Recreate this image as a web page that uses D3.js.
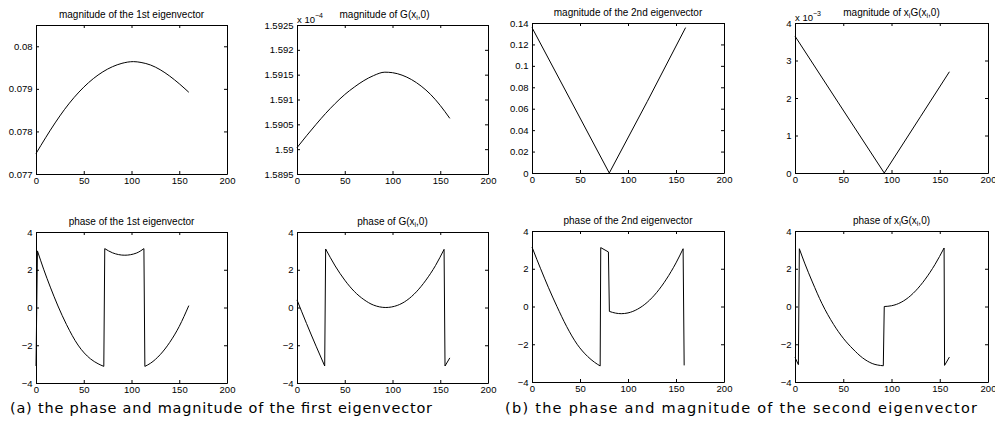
<!DOCTYPE html>
<html>
<head>
<meta charset="utf-8">
<title>eigenvectors</title>
<script src="https://cdn.jsdelivr.net/npm/d3@7"></script>
<style>
  body{ margin:0; background:#fff; }
  svg{ display:block; }
</style>
</head>
<body>
<div id="fig"></div>
<script>
// shared ticks
const xTicks = [0, 50, 100, 150, 200];
const phaseTicks = [-4, -2, 0, 2, 4];
const phaseLabels = ['\u22124', '\u22122', '0', '2', '4'];

// magnitude of the 1st eigenvector
const mag1X = [0, 10, 20, 30, 40, 50, 60, 70, 80, 90, 102, 110, 120, 130, 140, 150, 160];
const mag1Y = [0.07748, 0.07785, 0.0782, 0.07852, 0.0788, 0.07904, 0.07924, 0.0794, 0.07952, 0.0796, 0.07964, 0.07962, 0.07956, 0.07945, 0.0793, 0.07912, 0.07892];
const mag1Ticks = [0.077, 0.078, 0.079, 0.08];
const mag1Labels = ['0.077', '0.078', '0.079', '0.08'];

// magnitude of G(x_i,0), in units of 1e-4
const magGX = [0, 10, 20, 30, 40, 50, 60, 70, 80, 92, 100, 110, 120, 130, 140, 150, 160];
const magGY = [1.59003, 1.59027, 1.5905, 1.59072, 1.59092, 1.5911, 1.59125, 1.59138, 1.59148, 1.59155, 1.59154, 1.59149, 1.5914, 1.59127, 1.5911, 1.59088, 1.59062];
const magGTicks = [1.5895, 1.59, 1.5905, 1.591, 1.5915, 1.592, 1.5925];
const magGLabels = ['1.5895', '1.59', '1.5905', '1.591', '1.5915', '1.592', '1.5925'];

// magnitude of the 2nd eigenvector
const mag2X = [0, 40, 80.5, 120, 160];
const mag2Y = [0.1357, 0.0683, 0, 0.0666, 0.1357];
const mag2Ticks = [0, 0.02, 0.04, 0.06, 0.08, 0.1, 0.12, 0.14];
const mag2Labels = ['0', '0.02', '0.04', '0.06', '0.08', '0.1', '0.12', '0.14'];

// magnitude of x_i G(x_i,0), in units of 1e-3
const magXGX = [0, 45, 92.5, 130, 160];
const magXGY = [3.65, 1.87, 0, 1.5, 2.7];
const magXGTicks = [0, 1, 2, 3, 4];
const magXGLabels = ['0', '1', '2', '3', '4'];

// phases
const ph1X = [0, 1.5, 8, 15, 23, 32, 44, 57, 65, 71, 72, 80, 93, 105, 113, 114, 120, 130, 140, 150, 160];
const ph1Y = [-3.1, 3.0, 2.03, 1.08, 0.08, -0.91, -1.99, -2.72, -2.98, -3.12, 3.12, 2.9, 2.77, 2.88, 3.12, -3.12, -2.95, -2.5, -1.85, -1.0, 0.1];

const phGX = [0, 10, 20, 29, 30, 40, 50, 60, 70, 80, 93, 105, 115, 125, 135, 145, 154, 155, 160];
const phGY = [0.4, -0.85, -2.05, -3.1, 3.1, 2.2, 1.45, 0.85, 0.42, 0.13, 0.0, 0.11, 0.38, 0.83, 1.45, 2.22, 3.08, -3.1, -2.67];

const ph2X = [0, 5, 9, 17, 26, 36, 47, 58, 65, 71, 71.6, 79.6, 80.6, 87, 93, 100, 110, 120, 130, 140, 150, 157.4, 158.5];
const ph2Y = [3.15, 2.5, 2.0, 1.02, 0.0, -1.05, -2.0, -2.65, -2.95, -3.15, 3.12, 2.89, -0.26, -0.35, -0.38, -0.34, -0.14, 0.22, 0.75, 1.45, 2.31, 3.06, -3.12];

const phXGX = [0, 3.5, 4.5, 10, 18, 28, 40, 50, 60, 70, 80, 91.5, 92.5, 100, 105, 115, 125, 135, 145, 154.5, 155, 160];
const phXGY = [-2.7, -3.08, 3.06, 2.3, 1.3, 0.15, -0.95, -1.68, -2.25, -2.72, -3.02, -3.14, 0.0, 0.04, 0.11, 0.38, 0.83, 1.45, 2.22, 3.1, -3.12, -2.68];

const titles = [
  'magnitude of the 1st eigenvector', 'magnitude of G(x_i,0)',
  'magnitude of the 2nd eigenvector', 'magnitude of x_iG(x_i,0)',
  'phase of the 1st eigenvector', 'phase of G(x_i,0)',
  'phase of the 2nd eigenvector', 'phase of x_iG(x_i,0)'
];
const captions = ['(a) the phase and magnitude of the first eigenvector',
                  '(b) the phase and magnitude of the second eigenvector'];

const W = 995, H = 439;
const FONT = '"Liberation Sans", Arial, sans-serif';

const panels = [
  {box: [36, 227, 25, 174], xs: mag1X, ys: mag1Y, dom: [0.077, 0.0805], ticks: mag1Ticks, labels: mag1Labels, smooth: true},
  {box: [297, 488, 25, 174], xs: magGX, ys: magGY, dom: [1.5895, 1.5925], ticks: magGTicks, labels: magGLabels, smooth: true, expo: '\u22124', titleShift: -8},
  {box: [532, 724, 23, 173], xs: mag2X, ys: mag2Y, dom: [0, 0.14], ticks: mag2Ticks, labels: mag2Labels, smooth: false},
  {box: [795, 988, 23, 173], xs: magXGX, ys: magXGY, dom: [0, 4], ticks: magXGTicks, labels: magXGLabels, smooth: false, expo: '\u22123'},
  {box: [36, 227, 232, 383], xs: ph1X, ys: ph1Y, dom: [-4, 4], ticks: phaseTicks, labels: phaseLabels, smooth: true},
  {box: [297, 488, 232, 383], xs: phGX, ys: phGY, dom: [-4, 4], ticks: phaseTicks, labels: phaseLabels, smooth: true},
  {box: [532, 724, 231, 382], xs: ph2X, ys: ph2Y, dom: [-4, 4], ticks: phaseTicks, labels: phaseLabels, smooth: true},
  {box: [795, 988, 231, 382], xs: phXGX, ys: phXGY, dom: [-4, 4], ticks: phaseTicks, labels: phaseLabels, smooth: true}
];

const svg = d3.select('#fig').append('svg')
  .attr('width', W)
  .attr('height', H)
  .style('background', '#fff');

// split a series where the phase wraps, so the jump is drawn straight
function segments(xs, ys) {
  const pts = xs.map((v, i) => [v, ys[i]]);
  const segs = [];
  let cur = [pts[0]];
  for (let i = 1; i < pts.length; i++) {
    if (Math.abs(pts[i][1] - pts[i - 1][1]) > 3) {
      segs.push(cur);
      segs.push([pts[i - 1], pts[i]]);
      cur = [pts[i]];
    } else cur.push(pts[i]);
  }
  segs.push(cur);
  return segs.filter(s => s.length > 1);
}

// text with _x subscripts
function richText(sel, str, size) {
  const parts = str.split(/_(\w)/);
  let back = 0;
  parts.forEach((s, i) => {
    if (!s) return;
    if (i % 2 === 1) {
      sel.append('tspan').attr('dy', 2.5).attr('font-size', size * 0.7).text(s);
      back = -2.5;
    } else {
      sel.append('tspan').attr('dy', back).text(s);
      back = 0;
    }
  });
}

panels.forEach((p, idx) => {
  const [l, r, t, b] = p.box;
  const x = d3.scaleLinear().domain([0, 200]).range([l, r]);
  const y = d3.scaleLinear().domain(p.dom).range([b, t]);
  const g = svg.append('g');
  const fnt = s => s.attr('font-size', 9.5).attr('font-family', FONT);

  g.append('g').attr('transform', `translate(0,${b})`)
    .call(d3.axisBottom(x).tickValues(xTicks).tickSize(-3).tickSizeOuter(0).tickPadding(3.5))
    .call(fnt);
  g.append('g').attr('transform', `translate(0,${t})`)
    .call(d3.axisTop(x).tickValues(xTicks).tickSize(-3).tickSizeOuter(0).tickFormat(''));
  g.append('g').attr('transform', `translate(${l},0)`)
    .call(d3.axisLeft(y).tickValues(p.ticks).tickFormat((d, i) => p.labels[i]).tickSize(-3).tickSizeOuter(0).tickPadding(3.5))
    .call(fnt);
  g.append('g').attr('transform', `translate(${r},0)`)
    .call(d3.axisRight(y).tickValues(p.ticks).tickSize(-3).tickSizeOuter(0).tickFormat(''));

  const line = d3.line()
    .x(d => x(d[0]))
    .y(d => y(d[1]))
    .curve(p.smooth ? d3.curveMonotoneX : d3.curveLinear);

  g.append('path')
    .attr('d', segments(p.xs, p.ys).map(s => line(s)).join(''))
    .attr('fill', 'none')
    .attr('stroke', '#000')
    .attr('stroke-width', 1);

  const title = g.append('text')
    .attr('x', (l + r) / 2 + (p.titleShift || 0))
    .attr('y', t - 7.5)
    .attr('text-anchor', 'middle')
    .attr('font-size', 10)
    .attr('font-family', FONT);
  richText(title, titles[idx], 10);

  if (p.expo) {
    const ex = g.append('text')
      .attr('x', l)
      .attr('y', t - 2.5)
      .attr('font-size', 9.5)
      .attr('font-family', FONT);
    ex.append('tspan').text('x 10');
    ex.append('tspan').attr('dy', -5).attr('font-size', 7).text(p.expo);
  }
});

// sub-figure captions
svg.append('text')
  .attr('x', 10).attr('y', 413)
  .attr('textLength', 422).attr('lengthAdjust', 'spacing')
  .attr('font-size', 14.5)
  .attr('font-family', '"DejaVu Sans", sans-serif')
  .text(captions[0]);
svg.append('text')
  .attr('x', 505).attr('y', 413)
  .attr('textLength', 472).attr('lengthAdjust', 'spacing')
  .attr('font-size', 14.5)
  .attr('font-family', '"DejaVu Sans", sans-serif')
  .text(captions[1]);
</script>
</body>
</html>
